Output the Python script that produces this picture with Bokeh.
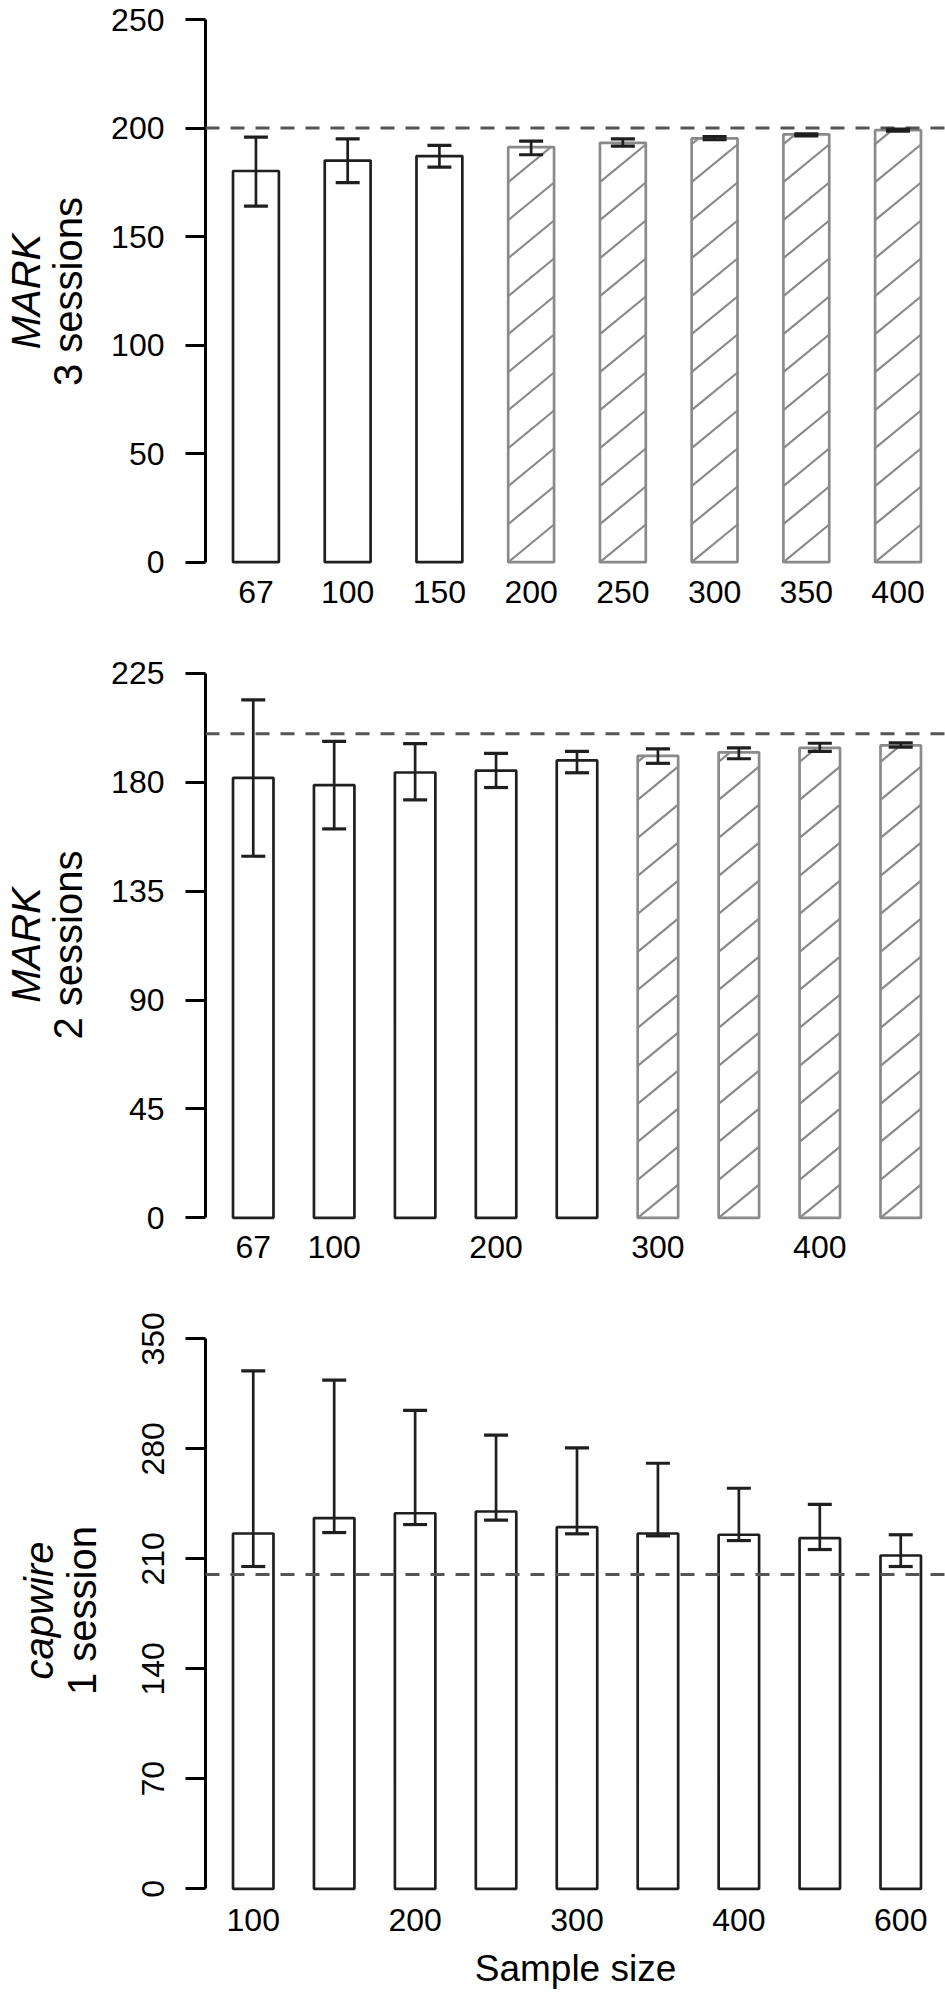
import math
from bokeh.plotting import figure
from bokeh.models import ColumnDataSource, FixedTicker, Range1d, Span, Whisker, TeeHead, LinearAxis
from bokeh.layouts import column
from bokeh.embed import file_html
from bokeh.resources import INLINE

TRUE_N = 200

# ---- Panel 1: MARK, 3 sessions ----
m3_sizes = [67, 100, 150, 200, 250, 300, 350, 400]
m3_labels = ["67", "100", "150", "200", "250", "300", "350", "400"]
m3_mean = [180.2, 185.0, 187.1, 191.2, 193.2, 195.2, 197.1, 199.0]
m3_lower = [164.0, 174.9, 182.0, 187.7, 191.7, 194.6, 196.4, 198.6]
m3_upper = [195.8, 195.0, 192.0, 194.0, 195.0, 196.0, 197.3, 199.5]
m3_hatched = [False, False, False, True, True, True, True, True]
m3_yticks = [0, 50, 100, 150, 200, 250]

# ---- Panel 2: MARK, 2 sessions ----
m2_sizes = [67, 100, 150, 200, 250, 300, 350, 400, 450]
m2_labels = ["67", "100", "", "200", "", "300", "", "400", ""]
m2_mean = [181.8, 178.8, 184.0, 184.8, 189.0, 190.9, 192.3, 194.2, 195.2]
m2_lower = [149.4, 160.7, 172.7, 177.8, 183.9, 187.8, 189.7, 192.7, 194.5]
m2_upper = [214.0, 196.9, 195.9, 191.9, 192.7, 193.8, 194.2, 196.1, 196.3]
m2_hatched = [False, False, False, False, False, True, True, True, True]
m2_yticks = [0, 45, 90, 135, 180, 225]

# ---- Panel 3: capwire, 1 session ----
c1_sizes = [100, 150, 200, 250, 300, 350, 400, 500, 600]
c1_labels = ["100", "", "200", "", "300", "", "400", "", "600"]
c1_mean = [226.1, 235.9, 239.0, 240.1, 230.1, 226.1, 225.3, 223.1, 212.1]
c1_lower = [205.1, 226.7, 231.8, 234.6, 225.9, 224.6, 221.6, 215.9, 205.1]
c1_upper = [329.6, 323.7, 304.4, 288.7, 280.6, 270.8, 254.9, 244.6, 225.3]
c1_hatched = [False] * 9
c1_yticks = [0, 70, 140, 210, 280, 350]

FONT = "Liberation Sans"
DARK = "#1f1f1f"
GREY = "#8a8a8a"
FIG_W = 945
BORDER_L = 203
FRAME_W = FIG_W - BORDER_L
R_PLOT_W = 745.0
HATCH_SLOPE = 0.82      # pixel slope of hatch lines
HATCH_GAP = 38.0        # vertical pixel gap between hatch lines


def hatch_segments(centers, tops, ppx, ppy):
    x0s, y0s, x1s, y1s = [], [], [], []
    for c, t in zip(centers, tops):
        w = 1.0 * ppx
        h = t * ppy
        jmin = -int(math.ceil(HATCH_SLOPE * w / HATCH_GAP)) - 1
        jmax = int(math.ceil(h / HATCH_GAP)) + 1
        for j in range(jmin, jmax + 1):
            b = j * HATCH_GAP
            xs = max(0.0, (0.0 - b) / HATCH_SLOPE)
            xe = min(w, (h - b) / HATCH_SLOPE)
            if xe - xs > 0.5:
                x0s.append(c - 0.5 + xs / ppx)
                x1s.append(c - 0.5 + xe / ppx)
                y0s.append((b + HATCH_SLOPE * xs) / ppy)
                y1s.append((b + HATCH_SLOPE * xe) / ppy)
    return dict(x0=x0s, y0=y0s, x1=x1s, y1=y1s)


def panel(sizes, labels, mean, lower, upper, hatched, yticks, lab1, lab2,
          fig_h, frame_top, frame_bot, ymax_px, y0_px, rotate, lab_standoff,
          x_standoff, xlabel=None):
    n = len(sizes)
    centers = [1.5 + 2 * i for i in range(n)]
    lo, hi = 1.0, 2.0 * n
    ext = 0.04 * (hi - lo)
    units = hi - lo + 2 * ext
    ppx = R_PLOT_W / units
    x0 = lo - ext
    x1 = x0 + FRAME_W / ppx
    ymax = yticks[-1]
    ppy = (y0_px - ymax_px) / ymax
    ys = -(frame_bot - y0_px) / ppy
    ye = ymax + (ymax_px - frame_top) / ppy

    p = figure(width=FIG_W, height=fig_h, output_backend="svg", toolbar_location=None,
               title_location=None, x_range=Range1d(x0, x1), y_range=Range1d(ys, ye),
               min_border_left=BORDER_L, min_border_right=0,
               min_border_top=frame_top, min_border_bottom=fig_h - frame_bot)
    p.outline_line_color = None
    p.grid.visible = False
    p.background_fill_color = "white"
    p.border_fill_color = "white"

    solid = dict(x=[c for c, h in zip(centers, hatched) if not h],
                 top=[m for m, h in zip(mean, hatched) if not h])
    hat = dict(x=[c for c, h in zip(centers, hatched) if h],
               top=[m for m, h in zip(mean, hatched) if h])
    if solid["x"]:
        p.vbar(x="x", top="top", bottom=0, width=1.0, source=ColumnDataSource(solid),
               fill_color="white", line_color=DARK, line_width=2.7)
    if hat["x"]:
        p.vbar(x="x", top="top", bottom=0, width=1.0, source=ColumnDataSource(hat),
               fill_color="white", line_color=GREY, line_width=2.7)
        seg = ColumnDataSource(hatch_segments(hat["x"], hat["top"], ppx, ppy))
        p.segment(x0="x0", y0="y0", x1="x1", y1="y1", source=seg,
                  line_color=GREY, line_width=2.2)

    p.add_layout(Span(location=TRUE_N, dimension="width", line_color="#555555",
                      line_width=3, line_dash="14 11", level="annotation"))

    err = ColumnDataSource(dict(x=centers, lower=lower, upper=upper))
    p.add_layout(Whisker(source=err, base="x", lower="lower", upper="upper",
                         line_color=DARK, line_width=2.7, level="annotation",
                         upper_head=TeeHead(size=24, line_color=DARK, line_width=3.2),
                         lower_head=TeeHead(size=24, line_color=DARK, line_width=3.2)))

    ya = p.yaxis[0]
    ya.ticker = FixedTicker(ticks=yticks)
    ya.bounds = (0, ymax)
    ya.axis_line_width = 3
    ya.axis_line_color = "black"
    ya.major_tick_line_width = 3
    ya.major_tick_line_color = "black"
    ya.major_tick_out = 20
    ya.major_tick_in = 0
    ya.minor_tick_line_color = None
    ya.major_label_text_font = FONT
    ya.major_label_text_font_size = "32px"
    ya.major_label_text_color = "black"
    ya.major_label_standoff = 21
    if rotate:
        ya.major_label_orientation = "vertical"
    ya.axis_label = lab2
    ya.axis_label_text_font = FONT
    ya.axis_label_text_font_size = "40px"
    ya.axis_label_text_font_style = "normal"
    ya.axis_label_text_color = "black"
    ya.axis_label_standoff = lab_standoff

    outer = LinearAxis(ticker=FixedTicker(ticks=[]), axis_label=lab1, bounds=(0, ymax),
                       axis_line_color=None, major_tick_line_color=None,
                       minor_tick_line_color=None, major_tick_out=0, major_tick_in=0,
                       minor_tick_out=0, minor_tick_in=0, major_label_standoff=0,
                       axis_label_standoff=-4, axis_label_text_font=FONT,
                       axis_label_text_font_size="40px", axis_label_text_font_style="italic",
                       axis_label_text_color="black")
    p.add_layout(outer, "left")

    xa = p.xaxis[0]
    xa.ticker = FixedTicker(ticks=centers)
    xa.major_label_overrides = {c: l for c, l in zip(centers, labels)}
    xa.axis_line_color = None
    xa.major_tick_line_color = None
    xa.minor_tick_line_color = None
    xa.major_tick_out = 0
    xa.major_label_text_font = FONT
    xa.major_label_text_font_size = "32px"
    xa.major_label_text_color = "black"
    xa.major_label_standoff = x_standoff
    if xlabel:
        xa.axis_label = xlabel
        xa.axis_label_text_font = FONT
        xa.axis_label_text_font_size = "37px"
        xa.axis_label_text_font_style = "normal"
        xa.axis_label_text_color = "black"
        xa.axis_label_standoff = 14
    return p


p1 = panel(m3_sizes, m3_labels, m3_mean, m3_lower, m3_upper, m3_hatched, m3_yticks,
           "MARK", "3 sessions", fig_h=645, frame_top=8, frame_bot=574,
           ymax_px=19, y0_px=561.7, rotate=False, lab_standoff=18, x_standoff=6)
p2 = panel(m2_sizes, m2_labels, m2_mean, m2_lower, m2_upper, m2_hatched, m2_yticks,
           "MARK", "2 sessions", fig_h=645, frame_top=15, frame_bot=584,
           ymax_px=27.8, y0_px=572.3, rotate=False, lab_standoff=18, x_standoff=6)
p3 = panel(c1_sizes, c1_labels, c1_mean, c1_lower, c1_upper, c1_hatched, c1_yticks,
           "capwire", "1 session", fig_h=703, frame_top=30, frame_bot=610,
           ymax_px=48.3, y0_px=598.3, rotate=True, lab_standoff=36, x_standoff=8,
           xlabel="Sample size")

layout = column(p1, p2, p3, spacing=0)
open("out.html", "w").write(file_html(layout, INLINE))
